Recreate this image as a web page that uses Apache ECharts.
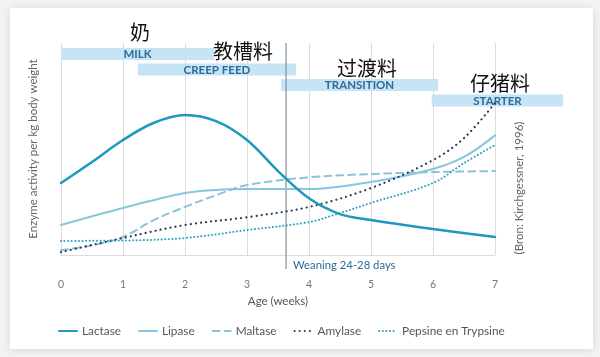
<!DOCTYPE html>
<html><head><meta charset="utf-8">
<script src="https://cdn.jsdelivr.net/npm/echarts@6/dist/echarts.min.js"></script>
<style>html,body{margin:0;padding:0;background:#f3f3f3;}#c{width:600px;height:357px;}</style>
</head><body><div id="c"></div>
<script>
// ---- data ----
const weeks = [0,1,2,3,4,5,6,7];
const lactase = [[0,34.3],[0.5,44.3],[1,54.8],[1.5,63],[2,66.7],[2.5,63.8],[3,54.8],[3.5,40],[4,27],[4.5,19.5],[5,16.7],[6,12.4],[7,8.6]];
const lipase = [[0,14.3],[1,22.4],[2,29.5],[2.5,31],[3,31.4],[4,31.4],[5,34.8],[6,41],[6.5,46.7],[7,57]];
const maltase = [[0,2.4],[0.5,4.5],[1,8.6],[1.5,16.7],[2,22.9],[2.5,28.5],[3,33.3],[4,37],[5,38.6],[6,39.5],[7,40]];
const amylase = [[0,1.4],[1,8.1],[2,14.3],[3,18],[4,22.9],[5,31.9],[6,45.2],[6.5,55.7],[7,72.4]];
const pepsine = [[0,6.7],[1,6.9],[2,8.1],[3,11.9],[4,15.7],[4.5,20],[5,24.8],[6,34.3],[6.5,43.8],[7,52.4]];
const seriesNames = ['Lactase','Lipase','Maltase','Amylase','Pepsine en Trypsine'];
const phaseNames = ['MILK','CREEP FEED','TRANSITION','STARTER'];
const phaseStart = [0,1.24,3.55,5.98];
const phaseEnd = [2.47,3.79,6.08,8.1];
const phaseCn = ['奶','教槽料','过渡料','仔猪料'];
const weaningWeek = 3.63;
const weaningLabel = 'Weaning 24-28 days';
const xName = 'Age (weeks)';
const yName = 'Enzyme activity per kg body weight';
const sourceText = '(Bron: Kirchgessner, 1996)';

const F = 'Lato, "Open Sans", sans-serif';
const chart = echarts.init(document.getElementById('c'));

const phaseData = phaseNames.map((n,i)=>[phaseStart[i], phaseEnd[i], i, n]);

function lineSeries(name, data, color, width, type, z){
  return {name, type:'line', data, smooth:0.35, symbol:'none', showSymbol:false, z:z||3,
    lineStyle:{color, width, type, cap:'round'}, itemStyle:{color}};
}

const cnPos = [[140,32],[243,51],[367,68],[500,83]];

chart.setOption({
  animation:false,
  backgroundColor:'transparent',
  graphic:[
    {type:'rect', z:-10, shape:{x:10,y:8,width:583,height:341}, style:{fill:'#fff', shadowBlur:8, shadowColor:'rgba(0,0,0,0.12)', shadowOffsetY:1}},
    ...phaseCn.map((t,i)=>({type:'text', z:50, style:{text:t, x:cnPos[i][0], y:cnPos[i][1], align:'center', verticalAlign:'middle', font:'400 20px "Noto Sans CJK SC"', fill:'#111'}})),
    {type:'text', z:50, x:519, y:188, rotation:Math.PI/2, style:{text:sourceText, align:'center', verticalAlign:'middle', font:'11.5px '+F, fill:'#666'}}
  ],
  grid:{left:61, right:105, top:43, bottom:102},
  xAxis:{type:'value', min:0, max:7, interval:1, name:xName, nameLocation:'middle', nameGap:20,
    nameTextStyle:{fontFamily:F, fontSize:11.5, color:'#555'},
    axisLine:{show:true, lineStyle:{color:'#dcdcdc'}}, axisTick:{show:false},
    axisLabel:{fontFamily:F, fontSize:10.5, color:'#777', margin:24},
    splitLine:{show:true, lineStyle:{color:'#dcdcdc', width:1}}},
  yAxis:{type:'value', min:0, max:101, name:yName, nameLocation:'middle', nameGap:22, nameRotate:90,
     nameTextStyle:{fontFamily:F, fontSize:11.5, color:'#666'},
     axisLine:{show:false}, axisTick:{show:false}, axisLabel:{show:false}, splitLine:{show:false}},
  legend:{left:53, top:320, itemWidth:18, itemHeight:10, itemGap:17,
    itemStyle:{opacity:0},
    textStyle:{fontFamily:F, fontSize:11.8, color:'#555'},
    data:seriesNames},
  series:[
    {type:'custom', name:'phases', clip:false, z:2, silent:true,
     data:phaseData,
     renderItem:function(params, api){
       const s = api.value(0), e = api.value(1), row = api.value(2);
       const p0 = api.coord([s, 101]);
       const p1 = api.coord([e, 101]);
       const y = p0[1] + 5 + row*15.5;
       const w = p1[0]-p0[0];
       return {type:'group', children:[
         {type:'rect', shape:{x:p0[0], y:y, width:w, height:12}, style:{fill:'#c6e4f4'}},
         {type:'text', style:{text:phaseNames[row], x:p0[0]+w/2, y:y+6.5, align:'center', verticalAlign:'middle', font:'bold 11.5px '+F, fill:'#2d6a98'}}
       ]};
     }},
    {type:'custom', name:'weaning', clip:false, z:4, silent:true,
     data:[[weaningWeek]],
     renderItem:function(params, api){
       const top = api.coord([api.value(0), 101]);
       const bot = api.coord([api.value(0), 0]);
       return {type:'group', children:[
         {type:'line', shape:{x1:top[0], y1:top[1], x2:bot[0], y2:bot[1]+14}, style:{stroke:'#8497a6', lineWidth:1.3}},
         {type:'text', style:{text:weaningLabel, x:top[0]+7, y:bot[1]+10, align:'left', verticalAlign:'middle', font:'11.3px '+F, fill:'#2f6b91'}}
       ]};
     }},
    lineSeries('Lactase', lactase, '#1f98be', 2.5, 'solid', 6),
    lineSeries('Lipase', lipase, '#86c6df', 2, 'solid', 5),
    lineSeries('Maltase', maltase, '#8cc2dc', 2, [7,5], 5),
    lineSeries('Amylase', amylase, '#2b3a5e', 2.2, [0.1,5], 5),
    lineSeries('Pepsine en Trypsine', pepsine, '#2aa3bd', 2, [0.1,3.5], 5)
  ]
});
</script></body></html>
